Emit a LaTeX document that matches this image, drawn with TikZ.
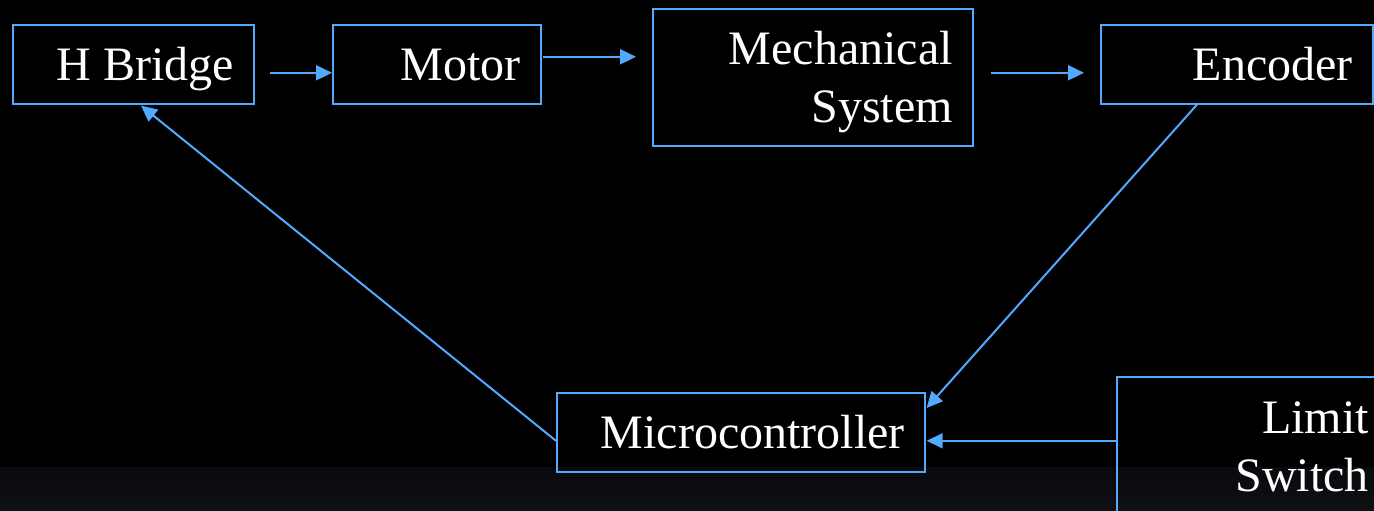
\documentclass[tikz,border=0pt]{standalone}
\usepackage{fontspec}
\setmainfont{Liberation Serif}
\usetikzlibrary{arrows.meta}
\definecolor{linkblue}{RGB}{82,170,255}
\definecolor{bandtop}{RGB}{8,10,13}
\definecolor{bandbot}{RGB}{14,16,20}
\begin{document}
\begin{tikzpicture}[x=1pt,y=-1pt,
  box/.style={draw=linkblue,line width=1.6pt,anchor=north west,
    inner xsep=20pt,inner ysep=0pt,text=white,align=flush right,
    font=\fontsize{48pt}{57.5pt}\selectfont\rmfamily,text height=42pt},
  oneline/.style={text depth=9pt,minimum height=79pt},
  twoline/.style={minimum height=137pt},
  arr/.style={draw=linkblue,line width=2pt,-{Triangle[length=16pt,width=15pt]}}]
\clip (0,0) rectangle (1374,511);
\fill[black] (0,0) rectangle (1374,511);
\shade[top color=bandtop,bottom color=bandbot] (0,467) rectangle (1374,511);

\node[box,oneline,text width=201pt] (hb) at (12,24) {H Bridge};
\node[box,oneline,text width=168pt] (mo) at (332,24) {Motor};
\node[box,twoline,text width=280pt,text depth=67pt] (me) at (652,8) {Mechanical\\System};
\node[box,oneline,text width=232pt] (en) at (1100,24) {Encoder};
\node[box,oneline,text width=328pt] (mc) at (556,392) {Microcontroller};
\node[box,twoline,text width=232pt,text depth=65pt] (ls) at (1116,376) {Limit\\Switch};

\draw[arr] ([xshift=15pt,yshift=-8.5pt]hb.east) -- ([yshift=-8.5pt]mo.west);
\coordinate (s2) at ([xshift=1pt,yshift=7.5pt]mo.east);
\draw[arr] (s2) -- ([xshift=-16pt]me.west |- s2);
\coordinate (s3) at ([xshift=17pt,yshift=4.5pt]me.east);
\draw[arr] (s3) -- ([xshift=-16pt]en.west |- s3);
\draw[arr] ([xshift=97pt]en.south west) -- ([xshift=1pt,yshift=-16pt]mc.north east);
\coordinate (s5) at ([yshift=4.5pt]ls.west);
\draw[arr] (s5) -- ([xshift=1pt]mc.east |- s5);
\draw[arr] ([yshift=-8.5pt]mc.west) -- ([xshift=129pt,yshift=-1pt]hb.south west);
\end{tikzpicture}
\end{document}
